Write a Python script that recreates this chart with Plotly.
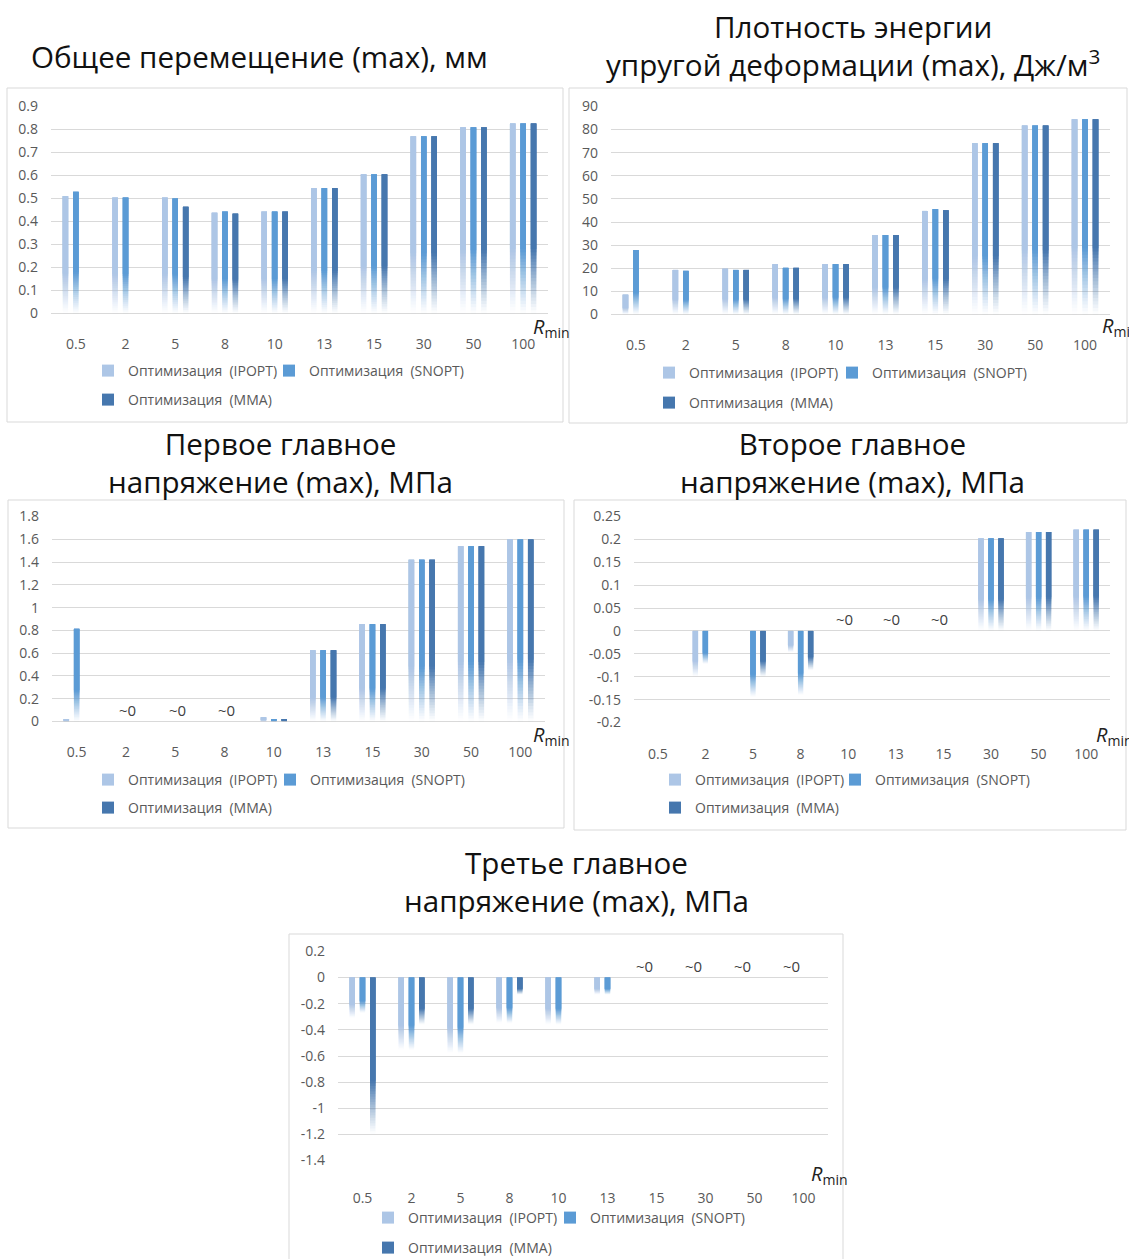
import plotly.graph_objects as go

# ---------------- data ----------------
categories = ["0.5", "2", "5", "8", "10", "13", "15", "30", "50", "100"]
series_names = ["Оптимизация\u00a0\u00a0(IPOPT)", "Оптимизация\u00a0\u00a0(SNOPT)", "Оптимизация\u00a0\u00a0(MMA)"]

# Общее перемещение (max), мм
disp_ipopt = [0.51, 0.504, 0.504, 0.438, 0.443, 0.545, 0.605, 0.77, 0.809, 0.826]
disp_snopt = [0.529, 0.504, 0.50, 0.443, 0.443, 0.545, 0.605, 0.77, 0.809, 0.826]
disp_mma = [None, None, 0.464, 0.434, 0.443, 0.545, 0.605, 0.77, 0.809, 0.826]

# Плотность энергии упругой деформации (max), Дж/м3
energy_ipopt = [8.6, 19.3, 19.8, 21.8, 21.8, 34.4, 44.8, 74.1, 81.7, 84.5]
energy_snopt = [27.9, 18.9, 19.3, 20.2, 21.8, 34.4, 45.6, 74.1, 81.7, 84.5]
energy_mma = [None, None, 19.3, 20.2, 21.8, 34.4, 45.1, 74.1, 81.7, 84.5]

# Первое главное напряжение (max), МПа
s1_ipopt = [0.023, None, None, None, 0.038, 0.626, 0.855, 1.42, 1.539, 1.597]
s1_snopt = [0.814, None, None, None, 0.023, 0.626, 0.855, 1.42, 1.539, 1.597]
s1_mma = [None, None, None, None, 0.023, 0.626, 0.855, 1.42, 1.539, 1.597]

# Второе главное напряжение (max), МПа
s2_ipopt = [None, -0.10, None, -0.047, None, None, None, 0.202, 0.216, 0.221]
s2_snopt = [None, -0.072, -0.144, -0.14, None, None, None, 0.202, 0.216, 0.221]
s2_mma = [None, None, -0.10, -0.086, None, None, None, 0.202, 0.216, 0.221]

# Третье главное напряжение (max), МПа
s3_ipopt = [-0.31, -0.555, -0.58, -0.35, -0.36, -0.13, None, None, None, None]
s3_snopt = [-0.27, -0.555, -0.58, -0.35, -0.36, -0.13, None, None, None, None]
s3_mma = [-1.195, -0.36, -0.36, -0.13, None, None, None, None, None, None]

# tick labels
disp_ticks = [0, 0.1, 0.2, 0.3, 0.4, 0.5, 0.6, 0.7, 0.8, 0.9]
disp_ticklabels = ["0", "0.1", "0.2", "0.3", "0.4", "0.5", "0.6", "0.7", "0.8", "0.9"]
energy_ticks = [0, 10, 20, 30, 40, 50, 60, 70, 80, 90]
energy_ticklabels = ["0", "10", "20", "30", "40", "50", "60", "70", "80", "90"]
s1_ticks = [0, 0.2, 0.4, 0.6, 0.8, 1.0, 1.2, 1.4, 1.6, 1.8]
s1_ticklabels = ["0", "0.2", "0.4", "0.6", "0.8", "1", "1.2", "1.4", "1.6", "1.8"]
s2_ticks = [-0.2, -0.15, -0.1, -0.05, 0, 0.05, 0.1, 0.15, 0.2, 0.25]
s2_ticklabels = ["-0.2", "-0.15", "-0.1", "-0.05", "0", "0.05", "0.1", "0.15", "0.2", "0.25"]
s3_ticks = [-1.4, -1.2, -1.0, -0.8, -0.6, -0.4, -0.2, 0, 0.2]
s3_ticklabels = ["-1.4", "-1.2", "-1", "-0.8", "-0.6", "-0.4", "-0.2", "0", "0.2"]

# categories marked "~0"
s1_zero_cats = ["2", "5", "8"]
s2_zero_cats = ["10", "13", "15"]
s3_zero_cats = ["15", "30", "50", "100"]

# ---------------- style / layout ----------------
W, H = 1129, 1259
FONT = "Open Sans"
COLORS = [(173, 198, 230), (91, 155, 213), (70, 119, 174)]
GRID = "#d9d9d9"
TICK = "#595959"
FADE = 0.34
K = 20


def px(x):
    return x / W


def py(y):
    return 1 - y / H


panels = [
    dict(vals=[disp_ipopt, disp_snopt, disp_mma], ticks=disp_ticks, labels=disp_ticklabels,
         rng=[0, 0.9], xd=(51, 548), yd=(106, 314), title="Общее перемещение (max), мм",
         tc=(259, 57), leg=[(128, 371), (309, 371), (128, 400)], rmin=(531, 327),
         box=(7, 88, 563, 422), xstand=20, zeros=[], zshift=0),
    dict(vals=[energy_ipopt, energy_snopt, energy_mma], ticks=energy_ticks, labels=energy_ticklabels,
         rng=[0, 90], xd=(611, 1110), yd=(106, 315),
         title="Плотность энергии<br>упругой деформации (max), Дж/м<sup>3</sup>",
         tc=(853, 46), leg=[(689, 373), (872, 373), (689, 403)], rmin=(1100, 326),
         box=(569, 88, 1127, 423), xstand=20, zeros=[], zshift=0),
    dict(vals=[s1_ipopt, s1_snopt, s1_mma], ticks=s1_ticks, labels=s1_ticklabels,
         rng=[0, 1.8], xd=(52, 545), yd=(516, 722), title="Первое главное<br>напряжение (max), МПа",
         tc=(280, 462), leg=[(128, 780), (310, 780), (128, 808)], rmin=(531, 735),
         box=(8, 500, 564, 828), xstand=20, zeros=s1_zero_cats, zshift=2),
    dict(vals=[s2_ipopt, s2_snopt, s2_mma], ticks=s2_ticks, labels=s2_ticklabels,
         rng=[-0.2, 0.25], xd=(634, 1110), yd=(516, 723), title="Второе главное<br>напряжение (max), МПа",
         tc=(852, 462), leg=[(695, 780), (875, 780), (695, 808)], rmin=(1094, 735),
         box=(574, 500, 1126, 830), xstand=21, zeros=s2_zero_cats, zshift=-4),
    dict(vals=[s3_ipopt, s3_snopt, s3_mma], ticks=s3_ticks, labels=s3_ticklabels,
         rng=[-1.4, 0.2], xd=(338, 828), yd=(951, 1161), title="Третье главное<br>напряжение (max), МПа",
         tc=(576, 881), leg=[(408, 1218), (590, 1218), (408, 1248)], rmin=(809, 1174),
         box=(289, 934, 843, 1262), xstand=27, zeros=s3_zero_cats, zshift=-12),
]

# per-step alpha so that overlapping layers build a smooth vertical fade
targets = [((k + 0.5) / K) ** 1.15 for k in range(K)]
layer_alpha = []
prev = 0.0
for t in targets:
    layer_alpha.append(1 - (1 - t) / (1 - prev))
    prev = t

fig = go.Figure()
annotations = []
shapes = []
layout_extra = {}

for p, pan in enumerate(panels, start=1):
    xa = "x" if p == 1 else f"x{p}"
    ya = "y" if p == 1 else f"y{p}"
    leg_names = []
    for j in range(3):
        n = 3 * (p - 1) + j + 1
        leg_names.append("legend" if n == 1 else f"legend{n}")
    for s, vals in enumerate(pan["vals"]):
        r, g, b = COLORS[s]
        lo = [None if v is None else min(0, v) for v in vals]
        L = [None if v is None else abs(v) for v in vals]
        # fading layers: each starts higher and runs up to the bar's upper end
        for k in range(K):
            f0 = FADE * k / K
            fig.add_trace(go.Bar(
                x=categories,
                y=[None if v is None else (1 - f0) * l for v, l in zip(vals, L)],
                base=[None if v is None else b0 + f0 * l for v, b0, l in zip(vals, lo, L)],
                marker=dict(color=f"rgba({r},{g},{b},{layer_alpha[k]:.4f})", line=dict(width=0)),
                offsetgroup=str(s), xaxis=xa, yaxis=ya, showlegend=False,
                hoverinfo="skip",
            ))
        # solid part
        fig.add_trace(go.Bar(
            x=categories,
            y=[None if v is None else (1 - FADE) * l for v, l in zip(vals, L)],
            base=[None if v is None else b0 + FADE * l for v, b0, l in zip(vals, lo, L)],
            marker=dict(color=f"rgb({r},{g},{b})", line=dict(width=0)),
            offsetgroup=str(s), xaxis=xa, yaxis=ya,
            name=series_names[s], showlegend=True, legend=leg_names[s],
            customdata=vals, hovertemplate="%{x}: %{customdata}<extra></extra>",
        ))

    x0, x1 = pan["xd"]
    y0, y1 = pan["yd"]
    span = pan["rng"][1] - pan["rng"][0]
    eps = span * 0.002
    layout_extra["xaxis" if p == 1 else f"xaxis{p}"] = dict(
        domain=[px(x0), px(x1)], anchor=ya, type="category",
        categoryorder="array", categoryarray=categories,
        range=[-0.5, len(categories) - 0.5], autorange=False,
        showgrid=False, showline=False, zeroline=False, ticks="",
        tickfont=dict(family=FONT, size=14, color=TICK), tickangle=0,
        ticklabelstandoff=pan["xstand"], fixedrange=True, automargin=False,
    )
    layout_extra["yaxis" if p == 1 else f"yaxis{p}"] = dict(
        domain=[py(y1), py(y0)], anchor=xa,
        range=[pan["rng"][0] - eps, pan["rng"][1] + eps], autorange=False,
        tickvals=pan["ticks"], ticktext=pan["labels"],
        showgrid=True, gridcolor=GRID, gridwidth=1,
        zeroline=True, zerolinecolor=GRID, zerolinewidth=1,
        showline=False, ticks="",
        tickfont=dict(family=FONT, size=14, color=TICK),
        ticklabelstandoff=12, fixedrange=True, automargin=False,
    )
    # legends (one per entry, positioned like the reference)
    for j, (lx, ly) in enumerate(pan["leg"]):
        layout_extra[leg_names[j]] = dict(
            orientation="h", x=px(lx - 40), y=py(ly),
            xanchor="left", yanchor="middle",
            font=dict(family=FONT, size=14, color=TICK),
            bgcolor="rgba(0,0,0,0)", borderwidth=0,
            itemclick=False, itemdoubleclick=False,
        )
    # title
    annotations.append(dict(
        text=pan["title"], x=px(pan["tc"][0]), y=py(pan["tc"][1]),
        xref="paper", yref="paper", xanchor="center", yanchor="middle",
        showarrow=False, font=dict(family=FONT, size=29.6, color="#111111"),
    ))
    # R_min label
    annotations.append(dict(
        text="<i>R</i><sub>min</sub>", x=px(pan["rmin"][0]), y=py(pan["rmin"][1]),
        xref="paper", yref="paper", xanchor="left", yanchor="middle",
        showarrow=False, font=dict(family=FONT, size=20, color="#222222"),
    ))
    # "~0" markers
    for c in pan["zeros"]:
        annotations.append(dict(
            text="~0", x=categories.index(c), y=0, xref=xa, yref=ya, yanchor="bottom",
            xshift=pan["zshift"], yshift=0,
            showarrow=False, font=dict(family=FONT, size=15, color="#404040"),
        ))
    bx0, by0, bx1, by1 = pan["box"]
    shapes.append(dict(
        type="rect", xref="paper", yref="paper",
        x0=px(bx0), x1=px(bx1), y0=py(by1), y1=py(by0),
        line=dict(color=GRID, width=1), fillcolor="rgba(0,0,0,0)", layer="below",
    ))

fig.update_layout(
    template="none",
    width=W, height=H,
    margin=dict(l=0, r=0, t=0, b=0, autoexpand=False),
    paper_bgcolor="white", plot_bgcolor="white",
    barmode="group", bargap=0.37, bargroupgap=0.47,
    annotations=annotations, shapes=shapes,
    font=dict(family=FONT),
    **layout_extra,
)

fig.write_html(
    "out.html",
    config={"displayModeBar": False},
    post_script="document.body.style.margin='0';document.body.style.padding='0';",
)
